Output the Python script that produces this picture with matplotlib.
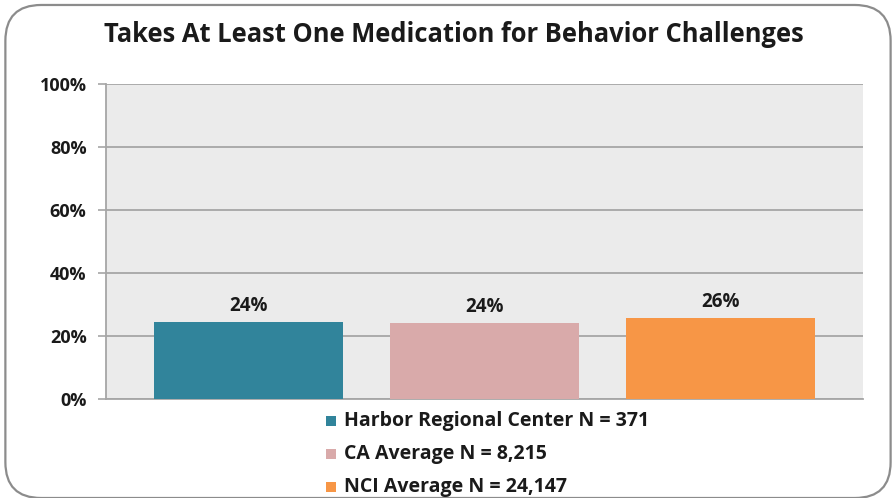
import matplotlib.pyplot as plt
from matplotlib.patches import FancyBboxPatch, Rectangle

# bar data
groups = ['Harbor Regional Center N = 371', 'CA Average N = 8,215', 'NCI Average N = 24,147']
shares = [0.243, 0.241, 0.256]
colors = ['#31849B', '#D9AAAA', '#F79646']
yticks = [0, 0.2, 0.4, 0.6, 0.8, 1.0]
ytick_labels = ['0%', '20%', '40%', '60%', '80%', '100%']

plt.rcParams['font.family'] = ['Open Sans', 'DejaVu Sans']

fig = plt.figure(figsize=(8.96, 4.98), dpi=100)

# rounded chart border
frame = FancyBboxPatch((0.006, 0.0), 0.988, 0.99, boxstyle='round,pad=0,rounding_size=0.04',
                       transform=fig.transFigure, facecolor='white', edgecolor='#8C8C8C',
                       linewidth=1.6, mutation_aspect=896 / 498, zorder=-1)
fig.patches.append(frame)

ax = fig.add_axes([0.1183, 0.1988, 0.845, 0.6325])
ax.set_facecolor('#EBEBEB')

x = range(len(shares))
bars = ax.bar(x, shares, width=0.8, color=colors, zorder=3)

for b, v in zip(bars, shares):
    ax.text(b.get_x() + b.get_width() / 2, v + 0.02, '{:.0f}%'.format(v * 100),
            ha='center', va='bottom', fontsize=13.5, fontweight='bold', color='#1A1A1A')

ax.set_xlim(-0.604, 2.604)
ax.set_ylim(0, 1.0)
ax.set_yticks(yticks)
ax.set_yticklabels(ytick_labels, fontsize=13, fontweight='bold', color='#1A1A1A')
ax.set_xticks([])
ax.yaxis.grid(True, color='#A6A6A6', linewidth=1.3, zorder=1)
ax.set_axisbelow(True)
ax.tick_params(axis='y', length=6, width=1.2, color='#A6A6A6', pad=8)

for s in ['top', 'right']:
    ax.spines[s].set_visible(False)
for s in ['left', 'bottom']:
    ax.spines[s].set_color('#A6A6A6')
    ax.spines[s].set_linewidth(1.3)

fig.text(0.507, 0.93, 'Takes At Least One Medication for Behavior Challenges',
         ha='center', va='center', fontsize=18.4, fontweight='bold', color='#1A1A1A')

# legend stacked under the plot
for i, (name, c) in enumerate(zip(groups, colors)):
    yy = 1 - (421 + 33 * i) / 498
    fig.patches.append(Rectangle((326 / 896, yy - 5 / 498), 10 / 896, 10 / 498,
                                 transform=fig.transFigure, facecolor=c, edgecolor='none'))
    fig.text(344 / 896, yy, name, ha='left', va='center', fontsize=14,
             fontweight='bold', color='#1A1A1A')

fig.savefig('out.png', dpi=100)
